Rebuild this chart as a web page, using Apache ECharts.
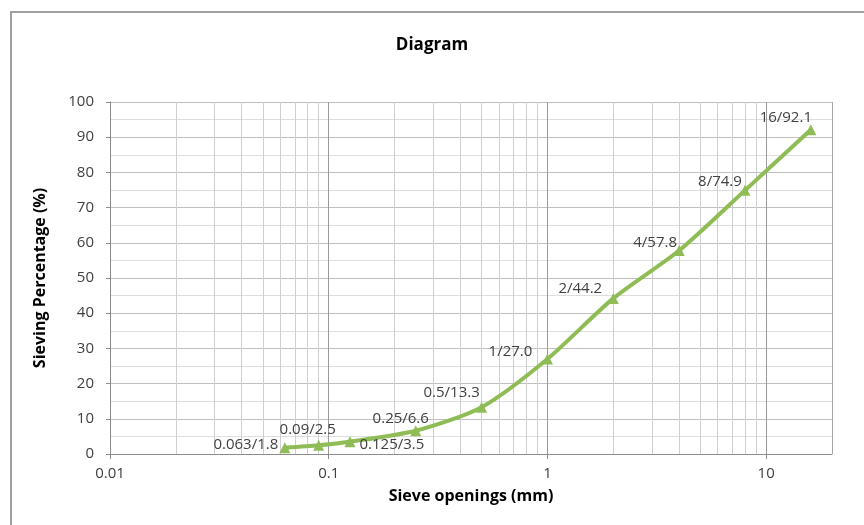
<!DOCTYPE html>
<html>
<head>
<meta charset="utf-8">
<script src="https://cdn.jsdelivr.net/npm/echarts@6/dist/echarts.min.js"></script>
<style>
  html, body { margin: 0; padding: 0; background: #fff; }
  #chart { width: 864px; height: 525px; }
</style>
</head>
<body>
<div id="chart"></div>
<script>
// Sieve analysis: opening size (mm) vs cumulative passing percentage
const sieveOpenings = [0.063, 0.09, 0.125, 0.25, 0.5, 1, 2, 4, 8, 16];
const sievingPercent = [1.8, 2.5, 3.5, 6.6, 13.3, 27.0, 44.2, 57.8, 74.9, 92.1];
const pointLabels = ['0.063/1.8', '0.09/2.5', '0.125/3.5', '0.25/6.6', '0.5/13.3',
                     '1/27.0', '2/44.2', '4/57.8', '8/74.9', '16/92.1'];
// minor vertical grid values inside each decade
const minorX = [0.02, 0.03, 0.04, 0.05, 0.06, 0.07, 0.08, 0.09,
                0.2, 0.3, 0.4, 0.5, 0.6, 0.7, 0.8, 0.9,
                2, 3, 4, 5, 6, 7, 8, 9];
const majorX = [0.1, 1, 10];

// label text centre relative to its point: [dx, dy]
const labelShift = [
  [-39, -3],
  [-11, -15],
  [42, 3],
  [-15, -12],
  [-30, -14],
  [-37, -7],
  [-33, -10],
  [-24, -8],
  [-25, -9],
  [-25, -12]
];

const FONT = '"Open Sans", "Liberation Sans", sans-serif';
const green = '#8fbc55';

const seriesData = sieveOpenings.map((x, i) => ({
  value: [x, sievingPercent[i]],
  label: { position: 'inside', offset: labelShift[i], formatter: pointLabels[i] }
}));

const chart = echarts.init(document.getElementById('chart'), null, { renderer: 'canvas' });
chart.setOption({
  animation: false,
  backgroundColor: '#ffffff',
  title: {
    text: 'Diagram',
    left: 'center',
    top: 32,
    textStyle: { fontFamily: FONT, fontSize: 17, fontWeight: 'bold', color: '#000' }
  },
  graphic: [{
    // frame: left and top edges only
    type: 'polyline',
    shape: { points: [[11, 525], [11, 12], [864, 12]] },
    style: { fill: 'none', stroke: '#a0a0a0', lineWidth: 2 },
    silent: true
  }],
  grid: { left: 110, top: 102, right: 32, bottom: 71 },
  xAxis: {
    type: 'log',
    logBase: 10,
    min: 0.01,
    max: 20,
    name: 'Sieve openings (mm)',
    nameLocation: 'middle',
    nameGap: 34,
    nameTextStyle: { fontFamily: FONT, fontSize: 16, fontWeight: 'bold', color: '#000' },
    axisLine: { lineStyle: { color: '#8c8c8c', width: 1 } },
    axisTick: { show: true, length: 5, lineStyle: { color: '#8c8c8c' } },
    axisLabel: {
      fontFamily: FONT, fontSize: 15, color: '#404040', margin: 12,
      showMaxLabel: false,
      formatter: v => (v >= 20 ? '' : String(+v.toPrecision(3)))
    },
    splitLine: { show: true, lineStyle: { color: '#a6a6a6', width: 1 } }
  },
  yAxis: {
    type: 'value',
    min: 0,
    max: 100,
    interval: 10,
    name: 'Sieving Percentage (%)',
    nameLocation: 'middle',
    nameGap: 62,
    nameTextStyle: { fontFamily: FONT, fontSize: 16, fontWeight: 'bold', color: '#000' },
    axisLine: { show: true, lineStyle: { color: '#8c8c8c' } },
    axisTick: { show: true, length: 4, lineStyle: { color: '#8c8c8c' } },
    axisLabel: { fontFamily: FONT, fontSize: 15, color: '#404040', margin: 16 },
    splitLine: { show: true, lineStyle: { color: '#bfbfbf' } },
    minorTick: { show: false, splitNumber: 2 },
    minorSplitLine: { show: true, lineStyle: { color: '#dedede' } }
  },
  series: [
    {
      // minor and major vertical grid lines drawn through the x scale
      type: 'line',
      data: [],
      silent: true,
      z: 1,
      markLine: {
        silent: true,
        symbol: 'none',
        label: { show: false },
        animation: false,
        data: minorX.map(v => ({ xAxis: v, lineStyle: { color: '#cfcfcf', width: 1, type: 'solid' } }))
          .concat(majorX.map(v => ({ xAxis: v, lineStyle: { color: '#9a9a9a', width: 1, type: 'solid' } })))
      }
    },
    {
      type: 'line',
      data: seriesData,
      smooth: 0.25,
      z: 5,
      symbol: 'triangle',
      symbolSize: 11,
      lineStyle: { color: green, width: 4 },
      itemStyle: { color: green },
      label: {
        show: true,
        fontFamily: FONT,
        fontSize: 15,
        color: '#404040'
      }
    }
  ]
});
</script>
</body>
</html>
